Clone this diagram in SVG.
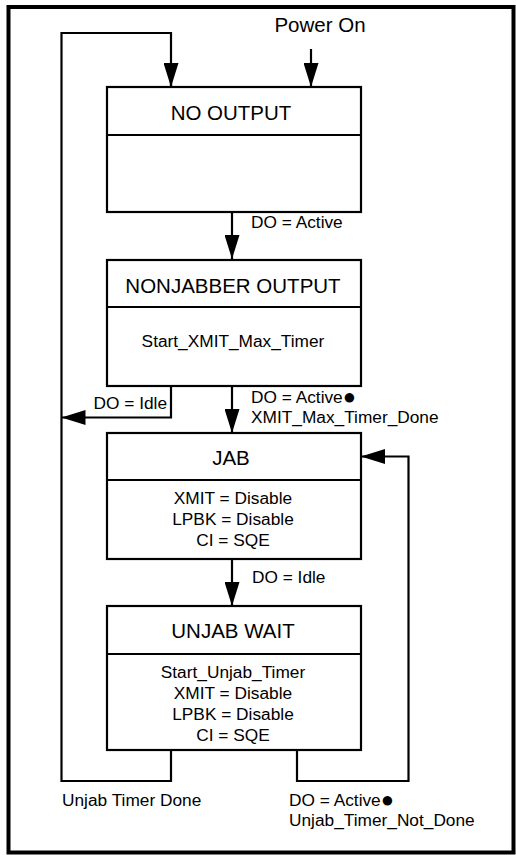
<svg xmlns="http://www.w3.org/2000/svg" width="516" height="855" viewBox="0 0 516 855">
<defs>
<style>
text{font-family:"Liberation Sans",Arial,sans-serif;fill:#000}
.t{font-size:20.5px;text-anchor:middle}
.b{font-size:17.3px;text-anchor:middle}
.l{font-size:17.3px}
.dot{font-size:22px}
.box{fill:#fff;stroke:#000;stroke-width:2.2}
.div{stroke:#000;stroke-width:2}
.c{fill:none;stroke:#000;stroke-width:2.2}
.a{marker-end:url(#arr)}
</style>
<marker id="arr" markerUnits="userSpaceOnUse" markerWidth="25" markerHeight="15" refX="24" refY="7.5" orient="auto">
<path d="M0,0 L24,7.5 L0,15 Z" fill="#000"/>
</marker>
</defs>
<rect width="516" height="855" fill="#fff"/>
<rect x="8.5" y="7" width="505" height="845.5" fill="none" stroke="#000" stroke-width="4"/>
<g id="connectors">
<path class="c" d="M171,750 V781 H61.5 V33 H171 V87"/>
<path class="c a" d="M171,80 V87"/>
<path class="c a" d="M311,49 V87"/>
<path class="c a" d="M232,212 V259"/>
<path class="c a" d="M171,386 V417.5 H61.5"/>
<path class="c a" d="M232,386 V433"/>
<path class="c a" d="M232,559 V606"/>
<path class="c a" d="M297,750 V781 H408.5 V456.5 H361"/>
</g>
<g id="labels">
<text class="t" x="320" y="32">Power On</text>
<text class="l" x="251" y="228">DO = Active</text>
<text class="l" x="167" y="409" text-anchor="end">DO = Idle</text>
<text class="l" x="251" y="403">DO = Active<tspan class="dot" dy="1">●</tspan></text>
<text class="l" x="251" y="423">XMIT_Max_Timer_Done</text>
<text class="l" x="252" y="583">DO = Idle</text>
<text class="l" x="62" y="806">Unjab Timer Done</text>
<text class="l" x="289" y="806">DO = Active<tspan class="dot" dy="1">●</tspan></text>
<text class="l" x="289" y="826">Unjab_Timer_Not_Done</text>
</g>
<g id="no-output">
<rect class="box" x="107" y="87" width="254" height="125"/>
<line class="div" x1="107" y1="135" x2="361" y2="135"/>
<text class="t" x="231" y="120">NO OUTPUT</text>
</g>
<g id="nonjabber-output">
<rect class="box" x="107" y="260" width="254" height="126"/>
<line class="div" x1="107" y1="307" x2="361" y2="307"/>
<text class="t" x="233" y="293">NONJABBER OUTPUT</text>
<text class="b" x="233" y="347">Start_XMIT_Max_Timer</text>
</g>
<g id="jab">
<rect class="box" x="107" y="433" width="254" height="126"/>
<line class="div" x1="107" y1="480" x2="361" y2="480"/>
<text class="t" x="231" y="465">JAB</text>
<text class="b" x="233" y="504">XMIT = Disable</text>
<text class="b" x="233" y="525">LPBK = Disable</text>
<text class="b" x="233" y="546">CI = SQE</text>
</g>
<g id="unjab-wait">
<rect class="box" x="107" y="606" width="254" height="144"/>
<line class="div" x1="107" y1="654" x2="361" y2="654"/>
<text class="t" x="233" y="638">UNJAB WAIT</text>
<text class="b" x="233" y="678">Start_Unjab_Timer</text>
<text class="b" x="233" y="699">XMIT = Disable</text>
<text class="b" x="233" y="720">LPBK = Disable</text>
<text class="b" x="233" y="741">CI = SQE</text>
</g>
</svg>
